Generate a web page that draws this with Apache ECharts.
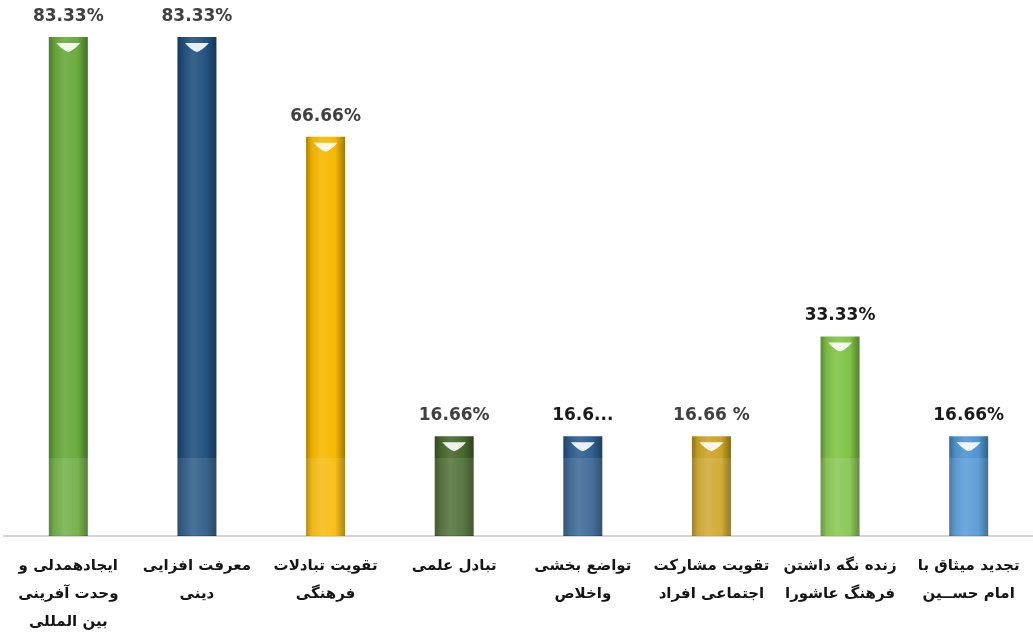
<!DOCTYPE html>
<html>
<head>
<meta charset="utf-8">
<script src="https://cdn.jsdelivr.net/npm/echarts@6/dist/echarts.min.js"></script>
<style>
  html, body { margin: 0; padding: 0; background: #fff; }
  #chart { width: 1033px; height: 643px; }
</style>
</head>
<body>
<div id="chart"></div>
<script>
  // data
  const categories = [
    'ایجادهمدلی و\nوحدت آفرینی\nبین المللی',
    'معرفت افزایی\nدینی',
    'تقویت تبادلات\nفرهنگی',
    'تبادل علمی',
    'تواضع بخشی\nواخلاص',
    'تقویت مشارکت\nاجتماعی افراد',
    'زنده نگه داشتن\nفرهنگ عاشورا',
    'تجدید میثاق با\nامام حســین'
  ];
  const values = [83.33, 83.33, 66.66, 16.66, 16.66, 16.66, 33.33, 16.66];
  const valueLabels = ['83.33%', '83.33%', '66.66%', '16.66%', '16.6...', '16.66 %', '33.33%', '16.66%'];

  const barColors = ['#68aa3c', '#22527f', '#f7b800', '#46682c', '#2f5f8f', '#cda425', '#80c446', '#4e94d4'];
  const labelColors = ['#404040', '#404040', '#404040', '#404040', '#1a1a1a', '#404040', '#1a1a1a', '#1a1a1a'];

  // mix toward black (f > 0) or white (f < 0)
  function shade(c, f) {
    const a = echarts.color.parse(c);
    const t = f < 0 ? 255 : 0;
    const k = Math.abs(f);
    return 'rgb(' + [0, 1, 2].map(function (i) {
      return Math.round(a[i] + (t - a[i]) * k);
    }).join(',') + ')';
  }

  function cylinder(c) {
    return new echarts.graphic.LinearGradient(0, 0, 1, 0, [
      {offset: 0, color: shade(c, 0.3)},
      {offset: 0.15, color: shade(c, 0.05)},
      {offset: 0.4, color: shade(c, -0.1)},
      {offset: 0.75, color: c},
      {offset: 1, color: shade(c, 0.35)}
    ]);
  }

  const chart = echarts.init(document.getElementById('chart'));

  const option = {
    animation: false,
    grid: {left: 4, right: 0, top: 3, bottom: 107},
    xAxis: {
      type: 'category',
      data: categories,
      axisLine: {lineStyle: {color: '#d4d4d4', width: 2}},
      axisTick: {show: false},
      axisLabel: {
        interval: 0,
        margin: 16,
        color: '#151515',
        fontFamily: 'DejaVu Sans',
        fontWeight: 'bold',
        fontSize: 15,
        lineHeight: 28
      }
    },
    yAxis: {
      type: 'value',
      min: 0,
      max: 89,
      show: false,
      splitLine: {show: false}
    },
    graphic: [{
      type: 'rect',
      left: 0,
      top: 458,
      shape: {width: 1033, height: 77},
      style: {fill: 'rgba(255,255,255,0.1)'},
      z: 20,
      silent: true
    }],
    series: [
      {
        type: 'bar',
        barWidth: 39,
        data: values.map(function (v, i) {
          return {
            value: v,
            itemStyle: {color: cylinder(barColors[i])},
            label: {color: labelColors[i]}
          };
        }),
        label: {
          show: true,
          position: 'top',
          distance: 12,
          fontFamily: 'DejaVu Sans',
          fontWeight: 'bold',
          fontSize: 17,
          formatter: function (p) { return valueLabels[p.dataIndex]; }
        }
      },
      {
        type: 'pictorialBar',
        symbol: 'path://M0,0 L20,0 Q14,7 10,8 Q6,7 0,0 Z',
        symbolSize: [24, 9],
        symbolPosition: 'end',
        symbolOffset: [0, 6],
        z: 5,
        itemStyle: {color: 'rgba(255,255,255,0.9)'},
        data: values
      }
    ]
  };

  chart.setOption(option);
</script>
</body>
</html>
